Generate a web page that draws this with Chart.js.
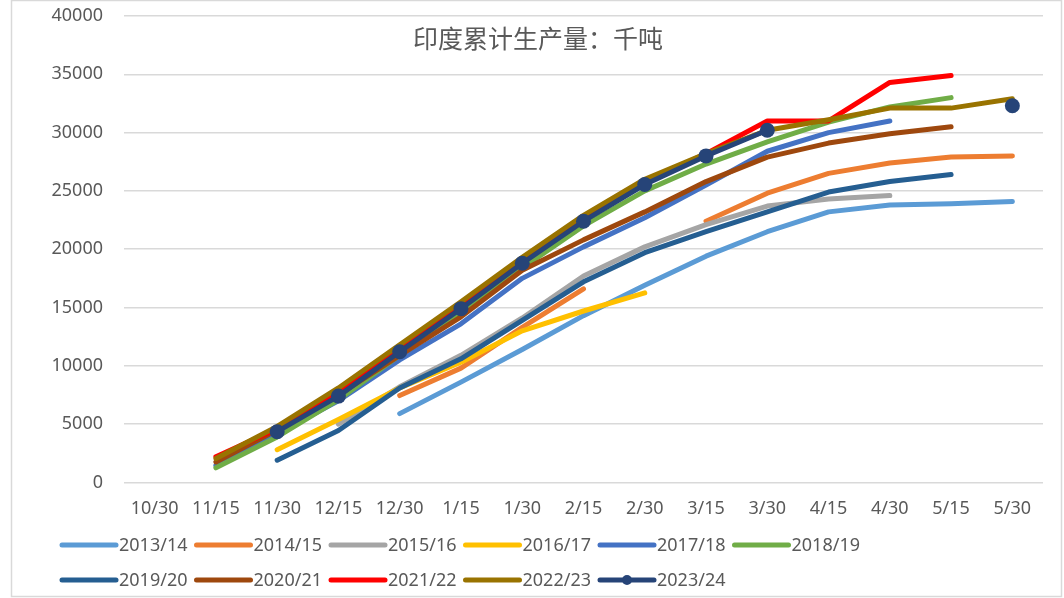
<!DOCTYPE html>
<html>
<head>
<meta charset="utf-8">
<script src="https://cdn.jsdelivr.net/npm/chart.js@4.4.1/dist/chart.umd.min.js"></script>
<style>
  html, body { margin: 0; padding: 0; background: #fff; }
  #wrap { width: 1064px; height: 598px; position: relative; }
</style>
</head>
<body>
<div id="wrap"><canvas id="chart"></canvas></div>
<script>
// x axis labels (half-month dates)
var categories = ["10/30","11/15","11/30","12/15","12/30","1/15","1/30","2/15","2/30","3/15","3/30","4/15","4/30","5/15","5/30"];
var yTicks = [0, 5000, 10000, 15000, 20000, 25000, 30000, 35000, 40000];

// cumulative production, thousand tonnes
var s2013 = [null,null,null,null,5900,8600,11400,14300,16900,19400,21500,23200,23800,23900,24100];
var s2014 = [null,null,null,null,7450,9800,13300,16600,null,22400,24800,26500,27400,27900,28000];
var s2015 = [null,null,null,5000,8200,10900,14100,17700,20200,22100,23700,24300,24600,null,null];
var s2016 = [null,null,2800,5400,8100,10300,13000,14700,16250,null,null,null,null,null,null];
var s2017 = [null,1450,4200,7000,10500,13600,17500,20200,22700,25500,28400,30000,31000,null,null];
var s2018 = [null,1250,3900,7100,10900,14600,18400,22000,25000,27300,29200,30900,32200,33000,null];
var s2019 = [null,null,1900,4450,8100,10600,13900,17200,19700,21500,23200,24900,25800,26400,null];
var s2020 = [null,1750,4500,7500,10900,14200,18200,20800,23200,25800,27900,29100,29900,30500,null];
var s2021 = [null,2200,4600,7800,11400,15100,19000,22500,25700,28200,31000,31000,34300,34900,null];
var s2022 = [null,2050,4800,8100,11800,15500,19300,22900,26000,28200,30200,31100,32100,32100,32900];
var s2023 = [null,null,4350,7400,11200,14900,18800,22400,25550,28000,30200,null,null,null,32300];

var seasons = ["2013/14","2014/15","2015/16","2016/17","2017/18","2018/19","2019/20","2020/21","2021/22","2022/23","2023/24"];
var seriesData = [s2013,s2014,s2015,s2016,s2017,s2018,s2019,s2020,s2021,s2022,s2023];
var colors = ["#5B9BD5","#ED7D31","#A5A5A5","#FFC000","#4472C4","#70AD47","#255E91","#9E480E","#FF0000","#997300","#264478"];

var titleText = "印度累计生产量：千吨";
var textColor = "#595959";

var datasets = seasons.map(function(name, i){
  var last = i === seasons.length - 1;
  return {
    label: name,
    data: seriesData[i],
    borderColor: colors[i],
    backgroundColor: colors[i],
    borderWidth: 5,
    borderCapStyle: "round",
    borderJoinStyle: "round",
    pointRadius: last ? 7.5 : 0,
    pointBorderWidth: 0,
    pointBackgroundColor: colors[i],
    tension: 0,
    spanGaps: false,
    order: seasons.length - i   // later seasons drawn on top, like the original
  };
});

// frame, title and a two-row legend drawn straight on the canvas
var decorations = {
  id: "decorations",
  beforeDraw: function(chart){
    var ctx = chart.ctx;
    ctx.save();
    ctx.fillStyle = "#fff";
    ctx.fillRect(0, 0, chart.width, chart.height);
    ctx.strokeStyle = "#d9d9d9";
    ctx.lineWidth = 1.5;
    ctx.strokeRect(11.5, 0.5, chart.width - 14, chart.height - 2);
    ctx.restore();
  },
  afterDraw: function(chart){
    var ctx = chart.ctx;
    ctx.save();
    ctx.fillStyle = textColor;
    ctx.font = '25px "Noto Sans CJK SC"';
    ctx.textAlign = "center";
    ctx.textBaseline = "middle";
    ctx.fillText(titleText, 538, 38);

    ctx.font = '18px "Noto Sans"';
    ctx.textAlign = "left";
    var perRow = 6, pitch = 134.5, x0 = 62, rowY = [545, 580];
    chart.data.datasets.forEach(function(ds, i){
      var x = x0 + (i % perRow) * pitch;
      var y = rowY[Math.floor(i / perRow)];
      ctx.strokeStyle = ds.borderColor;
      ctx.lineWidth = 5;
      ctx.lineCap = "round";
      ctx.beginPath();
      ctx.moveTo(x, y);
      ctx.lineTo(x + 54, y);
      ctx.stroke();
      if (ds.pointRadius > 0) {
        ctx.fillStyle = ds.borderColor;
        ctx.beginPath();
        ctx.arc(x + 27, y, 5, 0, Math.PI * 2);
        ctx.fill();
      }
      ctx.fillStyle = textColor;
      ctx.fillText(ds.label, x + 57, y + 1);
    });
    ctx.restore();
  }
};

var ctx = document.getElementById("chart").getContext("2d");
var myChart = new Chart(ctx, {
  type: "line",
  data: { labels: categories, datasets: datasets },
  options: {
    responsive: true,
    maintainAspectRatio: false,
    animation: false,
    layout: { padding: { top: 16, right: 21, bottom: 70, left: 0 } },
    plugins: {
      legend: { display: false },
      tooltip: { enabled: false },
      title: { display: false }
    },
    scales: {
      x: {
        offset: true,
        grid: { display: false },
        border: { display: false },
        ticks: {
          autoSkip: false,
          maxRotation: 0,
          padding: 8,
          color: textColor,
          font: { family: "Noto Sans", size: 18 }
        }
      },
      y: {
        min: yTicks[0],
        max: yTicks[yTicks.length - 1],
        afterFit: function(axis){
          axis.width = 124;
          axis.paddingTop = 0;
          axis.paddingBottom = 0;
        },
        afterBuildTicks: function(axis){
          axis.ticks = yTicks.map(function(v){ return { value: v }; });
        },
        grid: { color: "#d9d9d9", lineWidth: 1.5, drawTicks: false },
        border: { display: false },
        ticks: {
          padding: 21,
          color: textColor,
          font: { family: "Noto Sans", size: 18 },
          callback: function(v){ return String(v); }
        }
      }
    }
  },
  plugins: [decorations]
});
</script>
</body>
</html>
